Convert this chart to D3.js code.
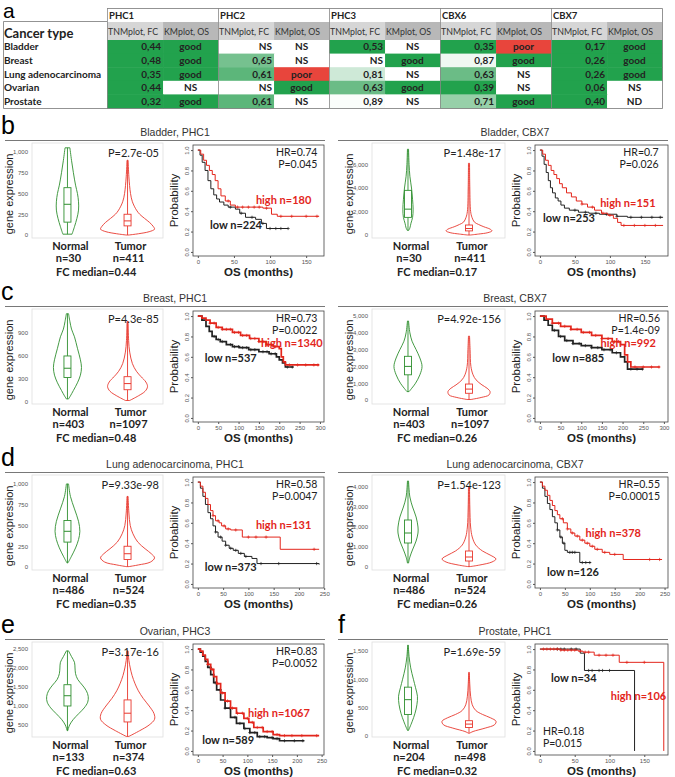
<!DOCTYPE html>
<html>
<head>
<meta charset="utf-8">
<script src="https://cdn.jsdelivr.net/npm/d3@7"></script>
<style>
  body { margin: 0; background: #fff; }
</style>
</head>
<body>
<div id="visual"></div>
<script>
// ---------- table (panel a)
const tableGenes = ["PHC1", "PHC2", "PHC3", "CBX6", "CBX7"];
const tableCancers = ["Bladder", "Breast", "Lung adenocarcinoma", "Ovarian", "Prostate"];
// FC median per cancer (rows) x gene (cols); null = NS
const tableFC = [
    [0.44, null, 0.53, 0.35, 0.17],
    [0.48, 0.65, null, 0.87, 0.26],
    [0.35, 0.61, 0.81, 0.63, 0.26],
    [0.44, null, 0.63, 0.39, 0.06],
    [0.32, 0.61, 0.89, 0.71, 0.40]
];
const tableOS = [
    ["good", "NS", "NS", "poor", "good"],
    ["good", "NS", "good", "good", "good"],
    ["good", "poor", "NS", "NS", "good"],
    ["NS", "good", "good", "NS", "NS"],
    ["good", "NS", "NS", "good", "ND"]
];

// ---------- violins: [expression, density]
const vBladderPHC1N = [[1050,0.09],[900,0.15],[750,0.22],[600,0.3],[500,0.37],[400,0.41],[300,0.41],[200,0.35],[100,0.26],[10,0.17]];
const vBladderPHC1T = [[900,0.02],[700,0.05],[500,0.11],[400,0.18],[300,0.33],[250,0.45],[200,0.63],[150,0.82],[100,0.96],[70,1.0],[40,0.8],[15,0.4],[0,0.05]];
const vBladderCBX7N = [[7300,0.02],[6000,0.04],[5000,0.07],[4000,0.13],[3000,0.17],[2200,0.19],[1500,0.17],[1000,0.11],[600,0.07],[400,0.03]];
const vBladderCBX7T = [[6100,0.02],[4000,0.03],[2000,0.06],[1500,0.11],[1100,0.2],[900,0.35],[700,0.55],[500,0.78],[350,0.85],[200,0.7],[80,0.35],[0,0.05]];
const vBreastPHC1N = [[1150,0.04],[1050,0.09],[950,0.15],[850,0.26],[700,0.37],[550,0.48],[450,0.52],[350,0.48],[250,0.37],[150,0.22],[80,0.11],[40,0.04]];
const vBreastPHC1T = [[1050,0.02],[800,0.04],[650,0.08],[500,0.18],[400,0.33],[330,0.5],[260,0.68],[200,0.74],[140,0.65],[80,0.4],[20,0.08]];
const vBreastCBX7N = [[4700,0.02],[4000,0.07],[3500,0.15],[3000,0.3],[2500,0.44],[2000,0.52],[1500,0.44],[1000,0.28],[700,0.14],[500,0.04]];
const vBreastCBX7T = [[3800,0.02],[3000,0.04],[2000,0.07],[1500,0.15],[1200,0.26],[900,0.48],[700,0.67],[500,0.78],[300,0.74],[150,0.45],[30,0.07]];
const vLungPHC1N = [[1000,0.04],[850,0.11],[700,0.26],[550,0.41],[430,0.46],[330,0.41],[230,0.3],[130,0.15],[50,0.02]];
const vLungPHC1T = [[850,0.02],[650,0.05],[500,0.1],[400,0.2],[300,0.38],[220,0.65],[160,0.88],[110,1.0],[60,0.85],[25,0.4],[5,0.05]];
const vLungCBX7N = [[4300,0.02],[3500,0.07],[3000,0.17],[2500,0.3],[2000,0.37],[1700,0.37],[1300,0.3],[900,0.18],[500,0.07],[200,0.02]];
const vLungCBX7T = [[4000,0.02],[3000,0.03],[2000,0.06],[1500,0.12],[1100,0.25],[800,0.5],[600,0.78],[400,1.0],[250,0.85],[100,0.4],[20,0.04]];
const vOvarianPHC3N = [[2450,0.04],[2300,0.15],[2150,0.26],[2000,0.28],[1850,0.3],[1700,0.38],[1550,0.55],[1400,0.7],[1250,0.77],[1100,0.75],[950,0.62],[800,0.42],[650,0.22],[500,0.08],[350,0.01]];
const vOvarianPHC3T = [[2450,0.02],[2200,0.05],[2000,0.1],[1800,0.17],[1600,0.27],[1400,0.4],[1200,0.58],[1000,0.8],[800,0.98],[650,1.0],[500,0.8],[350,0.45],[200,0.05]];
const vProstatePHC1N = [[1600,0.01],[1400,0.04],[1200,0.1],[1000,0.2],[850,0.28],[700,0.35],[550,0.33],[400,0.26],[250,0.15],[100,0.02]];
const vProstatePHC1T = [[1120,0.01],[900,0.03],[700,0.06],[550,0.12],[450,0.25],[380,0.5],[320,0.8],[260,1.0],[200,0.95],[140,0.6],[80,0.15],[50,0.02]];

// box stats: [min, q1, median, q3, max]
const bBladderPHC1N = [10,155,370,570,1050], bBladderPHC1T = [0,110,170,250,900];
const bBladderCBX7N = [400,1500,2200,3800,7300], bBladderCBX7T = [0,350,550,850,6100];
const bBreastPHC1N = [40,320,440,600,1150], bBreastPHC1T = [20,160,240,330,1050];
const bBreastCBX7N = [500,1500,2000,2600,4700], bBreastCBX7T = [30,400,650,950,3800];
const bLungPHC1N = [50,300,430,560,1000], bLungPHC1T = [5,90,160,250,850];
const bLungCBX7N = [200,1200,1700,2350,4300], bLungCBX7T = [20,300,500,800,4000];
const bOvarianPHC3N = [350,1000,1270,1560,2450], bOvarianPHC3T = [200,580,810,1160,2450];
const bProstatePHC1N = [100,380,640,860,1600], bProstatePHC1T = [50,150,210,270,1120];

// ---------- Kaplan-Meier: [months, survival probability]
const kmBladderPHC1High = [[0,1],[4,0.96],[8,0.9],[12,0.85],[16,0.8],[20,0.76],[24,0.7],[28,0.62],[32,0.55],[38,0.5],[45,0.46],[52,0.44],[90,0.43],[102,0.37],[110,0.35],[168,0.35]];
const kmBladderPHC1Low = [[0,1],[3,0.95],[6,0.88],[10,0.8],[14,0.7],[18,0.62],[22,0.56],[26,0.52],[30,0.49],[36,0.46],[42,0.44],[52,0.42],[58,0.38],[66,0.34],[80,0.32],[88,0.28],[95,0.23],[125,0.23]];
const kmBladderCBX7High = [[0,1],[4,0.96],[8,0.9],[12,0.85],[16,0.8],[20,0.76],[24,0.72],[28,0.67],[32,0.63],[38,0.58],[45,0.54],[52,0.5],[60,0.47],[68,0.44],[78,0.41],[88,0.38],[97,0.36],[105,0.33],[111,0.29],[116,0.26],[176,0.26]];
const kmBladderCBX7Low = [[0,1],[3,0.94],[6,0.86],[9,0.78],[12,0.7],[15,0.63],[18,0.58],[22,0.53],[26,0.5],[30,0.46],[35,0.43],[42,0.41],[55,0.39],[70,0.38],[85,0.37],[110,0.35],[125,0.34],[176,0.34]];
const kmBreastPHC1High = [[0,1],[10,0.98],[20,0.96],[30,0.93],[45,0.89],[60,0.87],[85,0.84],[105,0.81],[127,0.78],[150,0.75],[168,0.72],[185,0.7],[200,0.68],[205,0.6],[210,0.55],[215,0.52],[298,0.52]];
const kmBreastPHC1Low = [[0,1],[10,0.96],[20,0.9],[28,0.85],[35,0.8],[45,0.77],[55,0.75],[70,0.72],[85,0.7],[102,0.69],[125,0.67],[150,0.65],[175,0.63],[193,0.6],[200,0.57],[208,0.54],[215,0.5],[235,0.5]];
const kmBreastCBX7High = [[0,1],[15,0.97],[30,0.93],[50,0.9],[75,0.87],[100,0.84],[125,0.81],[150,0.78],[175,0.75],[195,0.72],[205,0.62],[212,0.55],[220,0.5],[290,0.5]];
const kmBreastCBX7Low = [[0,1],[10,0.96],[20,0.91],[30,0.86],[45,0.8],[60,0.76],[80,0.73],[100,0.71],[125,0.69],[150,0.67],[175,0.64],[195,0.6],[205,0.55],[212,0.48],[250,0.48]];
const kmLungPHC1High = [[0,1],[5,0.96],[10,0.9],[15,0.84],[20,0.78],[25,0.72],[30,0.67],[35,0.62],[42,0.6],[47,0.57],[55,0.54],[65,0.53],[88,0.46],[163,0.34],[240,0.34]];
const kmLungPHC1Low = [[0,1],[5,0.94],[10,0.86],[15,0.78],[20,0.7],[25,0.64],[30,0.57],[35,0.51],[40,0.46],[48,0.42],[55,0.38],[62,0.35],[70,0.33],[80,0.3],[92,0.27],[107,0.25],[117,0.2],[240,0.19]];
const kmLungCBX7High = [[0,1],[5,0.96],[10,0.92],[15,0.87],[20,0.82],[25,0.77],[30,0.72],[35,0.68],[40,0.64],[47,0.6],[55,0.54],[62,0.5],[70,0.47],[80,0.43],[90,0.4],[100,0.37],[110,0.34],[125,0.31],[140,0.29],[167,0.24],[245,0.24]];
const kmLungCBX7Low = [[0,1],[5,0.94],[10,0.86],[15,0.79],[20,0.73],[25,0.66],[30,0.6],[35,0.53],[40,0.46],[45,0.4],[50,0.33],[55,0.31],[80,0.21],[102,0.21]];
const kmOvarianPHC3High = [[0,1],[5,0.98],[10,0.94],[15,0.9],[20,0.85],[26,0.8],[32,0.73],[38,0.66],[46,0.57],[55,0.49],[66,0.42],[78,0.37],[93,0.32],[103,0.28],[113,0.23],[132,0.19],[152,0.16],[165,0.15],[245,0.15]];
const kmOvarianPHC3Low = [[0,1],[5,0.97],[10,0.93],[15,0.88],[20,0.82],[26,0.75],[32,0.67],[38,0.6],[46,0.5],[55,0.42],[66,0.33],[78,0.27],[93,0.22],[105,0.18],[120,0.14],[140,0.13],[152,0.12],[165,0.1],[215,0.1]];
const kmProstatePHC1High = [[0,1],[30,0.99],[55,0.98],[62,0.97],[78,0.94],[114,0.87],[178,0],[178,0]];
const kmProstatePHC1Low = [[0,1],[58,0.96],[64,0.79],[136,0],[136,0]];

// censored times
const cBladderPHC1High = [42,55,62,70,78,85,95,115,130,150,165], cBladderPHC1Low = [45,60,75,90,100,108,115,125];
const cBladderCBX7High = [60,75,90,100,120,135,150,165], cBladderCBX7Low = [50,65,80,95,110,130,145,160,172];
const cBreastPHC1High = [30,40,50,60,70,80,90,100,110,120,130,140,150,160,170,180,190,225,245,265,285,295];
const cBreastPHC1Low = [40,50,60,80,90,100,110,120,130,140,160,170,180,190,220,232];
const cBreastCBX7High = [30,45,60,75,90,105,120,135,150,165,180,190,230,250,270,288];
const cBreastCBX7Low = [35,50,65,80,95,110,125,140,155,170,185,220,235,248];
const cLungPHC1High = [30,40,52,60,75,100,115,135,230], cLungPHC1Low = [35,45,55,65,75,85,95,125,160,235];
const cLungCBX7High = [45,55,65,75,85,95,105,115,130,150,220,240], cLungCBX7Low = [35,42,48,60,65,70,85,92,100];
const cOvarianPHC3High = [20,30,40,50,60,70,80,90,100,110,120,130,140,150,160,175,190,210,240];
const cOvarianPHC3Low = [25,35,45,55,65,75,85,95,105,115,125,135,150,160,175,195,212];
const cProstatePHC1High = [5,10,15,20,25,30,35,40,45,50,58,65,70,85,95,105,125,150];
const cProstatePHC1Low = [25,30,35,45,52,70,75,85,90,100];

const COLORS = {
    green: "#22a24d",
    mid: "#66b981",
    red: "#e8453c",
    normal: "#2f8f2f",
    tumor: "#e8382e",
    high: "#e3261c",
    low: "#222",
    text: "#222"
};

// panel layout (b-f)
const rowOffsets = [0, 166, 332, 499];
const cols = [
    {vx: 32, vw: 131, kx: 193, kw: 131, mid: 175, l0: 5, l1: 325, lx: 1},
    {vx: 372, vw: 133, kx: 535, kw: 133, mid: 515, l0: 338, l1: 668, lx: 338}
];

const panels = [
    {label: "b", row: 0, col: 0, title: "Bladder, PHC1", vDomain: [-36, 1108], vTicks: [0, 250, 500, 750, 1000],
     normal: vBladderPHC1N, tumor: vBladderPHC1T, normalBox: bBladderPHC1N, tumorBox: bBladderPHC1T,
     p: "P=2.7e-05", nN: 30, nT: 411, fc: "0.44",
     kmMax: 168, kmTicks: [0, 50, 100, 150], high: kmBladderPHC1High, low: kmBladderPHC1Low,
     highC: cBladderPHC1High, lowC: cBladderPHC1Low, hr: "HR=0.74", pKM: "P=0.045", nHigh: 180, nLow: 224,
     pos: {hr: [0.95, 0.1, "end"], high: [0.48, 0.53, "start"], low: [0.13, 0.76, "start"]}, lw: 1},
    {row: 0, col: 1, title: "Bladder, CBX7", vDomain: [-255, 7830], vTicks: [0, 2000, 4000, 6000],
     normal: vBladderCBX7N, tumor: vBladderCBX7T, normalBox: bBladderCBX7N, tumorBox: bBladderCBX7T,
     p: "P=1.48e-17", nN: 30, nT: 411, fc: "0.17",
     kmMax: 176, kmTicks: [0, 50, 100, 150], high: kmBladderCBX7High, low: kmBladderCBX7Low,
     highC: cBladderCBX7High, lowC: cBladderCBX7Low, hr: "HR=0.7", pKM: "P=0.026", nHigh: 151, nLow: 253,
     pos: {hr: [0.93, 0.1, "end"], high: [0.49, 0.56, "start"], low: [0.06, 0.69, "start"]}, lw: 1},
    {label: "c", row: 1, col: 0, title: "Breast, PHC1", vDomain: [-26, 1212], vTicks: [0, 300, 600, 900],
     normal: vBreastPHC1N, tumor: vBreastPHC1T, normalBox: bBreastPHC1N, tumorBox: bBreastPHC1T,
     p: "P=4.3e-85", nN: 403, nT: 1097, fc: "0.48",
     kmMax: 298, kmTicks: [0, 50, 100, 150, 200, 250, 300], high: kmBreastPHC1High, low: kmBreastPHC1Low,
     highC: cBreastPHC1High, lowC: cBreastPHC1Low, hr: "HR=0.73", pKM: "P=0.0022", nHigh: 1340, nLow: 537,
     pos: {hr: [0.95, 0.1, "end"], high: [0.99, 0.32, "end"], low: [0.09, 0.46, "start"]}, lw: 1.7},
    {row: 1, col: 1, title: "Breast, CBX7", vDomain: [-238, 5417], vTicks: [0, 1000, 2000, 3000, 4000, 5000],
     normal: vBreastCBX7N, tumor: vBreastCBX7T, normalBox: bBreastCBX7N, tumorBox: bBreastCBX7T,
     p: "P=4.92e-156", nN: 403, nT: 1097, fc: "0.26",
     kmMax: 298, kmTicks: [0, 50, 100, 150, 200, 250, 300], high: kmBreastCBX7High, low: kmBreastCBX7Low,
     highC: cBreastCBX7High, lowC: cBreastCBX7Low, hr: "HR=0.56", pKM: "P=1.4e-09", nHigh: 992, nLow: 885,
     pos: {hr: [0.94, 0.1, "end"], high: [0.91, 0.32, "end"], low: [0.13, 0.46, "start"]}, lw: 1.7},
    {label: "d", row: 2, col: 0, title: "Lung adenocarcinoma, PHC1", vDomain: [-36, 1108], vTicks: [0, 250, 500, 750, 1000],
     normal: vLungPHC1N, tumor: vLungPHC1T, normalBox: bLungPHC1N, tumorBox: bLungPHC1T,
     p: "P=9.33e-98", nN: 486, nT: 524, fc: "0.35",
     kmMax: 240, kmTicks: [0, 50, 100, 150, 200, 250], high: kmLungPHC1High, low: kmLungPHC1Low,
     highC: cLungPHC1High, lowC: cLungPHC1Low, hr: "HR=0.58", pKM: "P=0.0047", nHigh: 131, nLow: 373,
     pos: {hr: [0.95, 0.1, "end"], high: [0.48, 0.47, "start"], low: [0.09, 0.85, "start"]}, lw: 1},
    {row: 2, col: 1, title: "Lung adenocarcinoma, CBX7", vDomain: [-150, 4600], vTicks: [0, 1000, 2000, 3000, 4000],
     normal: vLungCBX7N, tumor: vLungCBX7T, normalBox: bLungCBX7N, tumorBox: bLungCBX7T,
     p: "P=1.54e-123", nN: 486, nT: 524, fc: "0.26",
     kmMax: 247, kmTicks: [0, 50, 100, 150, 200, 250], high: kmLungCBX7High, low: kmLungCBX7Low,
     highC: cLungCBX7High, lowC: cLungCBX7Low, hr: "HR=0.55", pKM: "P=0.00015", nHigh: 378, nLow: 126,
     pos: {hr: [0.94, 0.1, "end"], high: [0.38, 0.54, "start"], low: [0.09, 0.89, "start"]}, lw: 1},
    {label: "e", row: 3, col: 0, title: "Ovarian, PHC3", vDomain: [184, 2684], vTicks: [500, 1000, 1500, 2000, 2500],
     normal: vOvarianPHC3N, tumor: vOvarianPHC3T, normalBox: bOvarianPHC3N, tumorBox: bOvarianPHC3T,
     p: "P=3.17e-16", nN: 133, nT: 374, fc: "0.63",
     kmMax: 245, kmTicks: [0, 50, 100, 150, 200, 250], high: kmOvarianPHC3High, low: kmOvarianPHC3Low,
     highC: cOvarianPHC3High, lowC: cOvarianPHC3Low, hr: "HR=0.83", pKM: "P=0.0052", nHigh: 1067, nLow: 589,
     pos: {hr: [0.95, 0.1, "end"], high: [0.42, 0.66, "start"], low: [0.07, 0.9, "start"]}, lw: 1.7},
    {label: "f", row: 3, col: 1, title: "Prostate, PHC1", vDomain: [-17, 1655], vTicks: [0, 500, 1000, 1500],
     normal: vProstatePHC1N, tumor: vProstatePHC1T, normalBox: bProstatePHC1N, tumorBox: bProstatePHC1T,
     p: "P=1.69e-59", nN: 204, nT: 498, fc: "0.32",
     kmMax: 177, kmTicks: [0, 50, 100, 150], high: kmProstatePHC1High, low: kmProstatePHC1Low,
     highC: cProstatePHC1High, lowC: cProstatePHC1Low, hr: "HR=0.18", pKM: "P=0.015", nHigh: 106, nLow: 34,
     pos: {hr: [0.06, 0.82, "start"], high: [0.57, 0.5, "start"], low: [0.12, 0.34, "start"]}, lw: 1}
];

const svg = d3.select("#visual")
    .append("svg")
    .attr("width", 675)
    .attr("height", 777)
    .style("font-family", "Lato, sans-serif");

// ================= panel a: table
svg.append("text").attr("x", 3).attr("y", 18)
    .style("font-family", "Liberation Sans, Arial, sans-serif").style("font-size", "21px")
    .text("a");

let gx = d3.scaleBand().domain(tableGenes).range([107, 662]);
let ry = d3.scaleBand().domain(tableCancers).range([40, 108]);
let split = 0.505;
let fcColor = d3.scaleLinear()
    .domain([0.55, 0.62, 0.9])
    .range([COLORS.green, COLORS.mid, "#ffffff"])
    .clamp(true);
let osColor = {good: COLORS.green, poor: COLORS.red, NS: "#fff", ND: "#fff"};

let table = svg.append("g");

// header cells
tableGenes.forEach(function (g) {
    let x = gx(g), w = gx.bandwidth();
    table.append("rect").attr("x", x).attr("y", 22).attr("width", w * split).attr("height", 18).style("fill", "#d6d6d6");
    table.append("rect").attr("x", x + w * split).attr("y", 22).attr("width", w * (1 - split)).attr("height", 18).style("fill", "#b8b8b8");
    table.append("text").attr("x", x + 2).attr("y", 18.5)
        .style("font-size", "9.5px").style("font-weight", "700").style("fill", COLORS.text).text(g);
    table.append("text").attr("x", x + 1).attr("y", 35)
        .style("font-size", "8.8px").style("fill", "#333").text("TNMplot, FC");
    table.append("text").attr("x", x + w * split + 1).attr("y", 35)
        .style("font-size", "8.8px").style("fill", "#333").text("KMplot, OS");
});

table.append("text").attr("x", 4).attr("y", 38)
    .style("font-size", "13px").style("font-weight", "700").style("fill", COLORS.text).text("Cancer type");

// body cells
tableCancers.forEach(function (c, ci) {
    let y = ry(c), h = ry.bandwidth();
    table.append("text").attr("x", 4).attr("y", y + h * 0.76)
        .style("font-size", "10px").style("font-weight", "700").style("fill", COLORS.text).text(c);
    tableGenes.forEach(function (g, gi) {
        let x = gx(g), w = gx.bandwidth();
        let fc = tableFC[ci][gi], os = tableOS[ci][gi];
        table.append("rect").attr("x", x).attr("y", y).attr("width", w * split + 0.5).attr("height", h + 0.5)
            .style("fill", fc == null ? "#fff" : fcColor(fc));
        table.append("rect").attr("x", x + w * split).attr("y", y).attr("width", w * (1 - split) + 0.5).attr("height", h + 0.5)
            .style("fill", osColor[os]);
        table.append("text").attr("x", x + w * split - 2).attr("y", y + h * 0.76)
            .attr("text-anchor", "end")
            .style("font-size", "10px").style("font-weight", "700").style("fill", COLORS.text)
            .text(fc == null ? "NS" : fc.toFixed(2).replace(".", ","));
        table.append("text").attr("x", x + w * split + w * (1 - split) / 2).attr("y", y + h * 0.76)
            .attr("text-anchor", "middle")
            .style("font-size", "10px").style("font-weight", "700").style("fill", COLORS.text)
            .text(os);
    });
});

// table borders
table.append("path")
    .attr("d", "M107,8.5H662.5V108.5H3.5V21.5H107")
    .style("fill", "none").style("stroke", "#777").style("stroke-width", 0.8);
table.selectAll("line.sep")
    .data(tableGenes)
    .enter().append("line")
    .attr("x1", d => gx(d) + 0.5).attr("x2", d => gx(d) + 0.5)
    .attr("y1", 8).attr("y2", 108)
    .style("stroke", "#888").style("stroke-width", 0.8);

// ================= panels b-f
let wScale = d3.scaleLinear().domain([0, 1]).range([0, 27]);

function drawPanel(p) {
    let oy = rowOffsets[p.row];
    let c = cols[p.col];
    let g = svg.append("g");

    if (p.label) {
        g.append("text").attr("x", c.lx).attr("y", oy + 134)
            .style("font-family", "Liberation Sans, Arial, sans-serif").style("font-size", "25px")
            .text(p.label);
    }

    g.append("text").attr("x", c.mid).attr("y", oy + 136)
        .attr("text-anchor", "middle")
        .style("font-family", "Liberation Sans, Arial, sans-serif").style("font-size", "10.5px").style("fill", "#333")
        .text(p.title);
    g.append("line").attr("x1", c.l0).attr("x2", c.l1).attr("y1", oy + 140.5).attr("y2", oy + 140.5)
        .style("stroke", "#555").style("stroke-width", 0.8);

    // ---- violin plot
    let vTop = oy + 143, vBot = oy + 238;
    g.append("rect").attr("x", c.vx).attr("y", vTop).attr("width", c.vw).attr("height", vBot - vTop)
        .style("fill", "none").style("stroke", "#dedede").style("stroke-width", 0.8);

    let y = d3.scaleLinear().domain(p.vDomain).range([vBot, vTop]);
    let x = d3.scalePoint().domain(["Normal", "Tumor"]).range([c.vx, c.vx + c.vw]).padding(0.59);

    g.append("g")
        .attr("transform", "translate(" + (c.vx - 1) + ",0)")
        .call(d3.axisLeft(y).tickValues(p.vTicks).tickSize(0).tickPadding(3))
        .call(a => a.select(".domain").remove())
        .selectAll("text")
        .style("font-family", "Liberation Sans, Arial, sans-serif").style("font-size", "6px").style("fill", "#555");

    g.append("text")
        .attr("transform", "translate(" + (c.vx - 19) + "," + (oy + 194) + ")rotate(-90)")
        .attr("text-anchor", "middle")
        .style("font-family", "Liberation Sans, Arial, sans-serif").style("font-size", "11px").style("fill", "#222")
        .text("gene expression");

    [["Normal", p.normal, p.normalBox, COLORS.normal, p.nN], ["Tumor", p.tumor, p.tumorBox, COLORS.tumor, p.nT]]
        .forEach(function (v) {
            let cx = x(v[0]), col = v[3], box = v[2];
            let area = d3.area()
                .y(d => y(d[0]))
                .x0(d => cx - wScale(d[1]))
                .x1(d => cx + wScale(d[1]))
                .curve(d3.curveCatmullRom);
            g.append("path").datum(v[1]).attr("d", area)
                .style("fill", "#fff").style("stroke", col).style("stroke-width", 0.9);
            g.append("line").attr("x1", cx).attr("x2", cx).attr("y1", y(box[0])).attr("y2", y(box[1]))
                .style("stroke", col).style("stroke-width", 0.9);
            g.append("line").attr("x1", cx).attr("x2", cx).attr("y1", y(box[3])).attr("y2", y(box[4]))
                .style("stroke", col).style("stroke-width", 0.9);
            g.append("rect").attr("x", cx - 3.5).attr("width", 7)
                .attr("y", y(box[3])).attr("height", y(box[1]) - y(box[3]))
                .style("fill", "#fff").style("stroke", col).style("stroke-width", 0.9);
            g.append("line").attr("x1", cx - 3.5).attr("x2", cx + 3.5).attr("y1", y(box[2])).attr("y2", y(box[2]))
                .style("stroke", col).style("stroke-width", 1);

            g.append("text").attr("x", cx + 3).attr("y", vBot + 12)
                .attr("text-anchor", "middle")
                .style("font-size", "11px").style("font-weight", "700").style("fill", COLORS.text)
                .text(v[0]);
            g.append("text").attr("x", cx + 1).attr("y", vBot + 23.5)
                .attr("text-anchor", "middle")
                .style("font-size", "11px").style("font-weight", "700").style("fill", COLORS.text)
                .text("n=" + v[4]);
        });

    g.append("text").attr("x", c.vx + c.vw * 0.49).attr("y", vBot + 38)
        .attr("text-anchor", "middle")
        .style("font-size", "11px").style("font-weight", "700").style("fill", COLORS.text)
        .text("FC median=" + p.fc);
    g.append("text").attr("x", c.vx + c.vw - 4).attr("y", vTop + 14)
        .attr("text-anchor", "end")
        .style("font-size", "11px").style("fill", COLORS.text)
        .text(p.p);

    // ---- KM plot
    let kTop = oy + 145, kH = 111, kBot = kTop + kH;
    let kx = d3.scaleLinear().domain([-0.04 * p.kmMax, 1.04 * p.kmMax]).range([c.kx, c.kx + c.kw]);
    let ky = d3.scaleLinear().domain([-0.04, 1.05]).range([kBot, kTop]);

    g.append("rect").attr("x", c.kx).attr("y", kTop).attr("width", c.kw).attr("height", kH)
        .style("fill", "none").style("stroke", "#444").style("stroke-width", 0.8);

    g.append("g")
        .attr("transform", "translate(0," + kBot + ")")
        .call(d3.axisBottom(kx).tickValues(p.kmTicks).tickSize(2).tickPadding(2))
        .call(a => a.select(".domain").remove())
        .call(a => a.selectAll("line").style("stroke", "#555"))
        .selectAll("text")
        .style("font-family", "Liberation Sans, Arial, sans-serif").style("font-size", "6px").style("fill", "#555");

    g.append("g")
        .attr("transform", "translate(" + c.kx + ",0)")
        .call(d3.axisLeft(ky).tickValues([0, 0.2, 0.4, 0.6, 0.8, 1]).tickFormat(d3.format(".1f")).tickSize(2))
        .call(a => a.select(".domain").remove())
        .call(a => a.selectAll("line").style("stroke", "#555"))
        .selectAll("text")
        .attr("x", 0).attr("y", -4).attr("dy", 0)
        .attr("transform", "rotate(-90)")
        .style("text-anchor", "middle")
        .style("font-family", "Liberation Sans, Arial, sans-serif").style("font-size", "6px").style("fill", "#555");

    g.append("text")
        .attr("transform", "translate(" + (c.kx - 15) + "," + (kTop + kH / 2) + ")rotate(-90)")
        .attr("text-anchor", "middle")
        .style("font-family", "Liberation Sans, Arial, sans-serif").style("font-size", "11.5px").style("fill", "#222")
        .text("Probability");
    g.append("text").attr("x", c.kx + c.kw / 2).attr("y", kBot + 20)
        .attr("text-anchor", "middle")
        .style("font-family", "Liberation Sans, Arial, sans-serif").style("font-size", "11.5px")
        .style("font-weight", "700").style("fill", "#222")
        .text("OS (months)");

    let line = d3.line().x(d => kx(d[0])).y(d => ky(d[1])).curve(d3.curveStepAfter);
    let bis = d3.bisector(d => d[0]).right;
    [[p.low, p.lowC, COLORS.low], [p.high, p.highC, COLORS.high]].forEach(function (k) {
        g.append("path").datum(k[0]).attr("d", line)
            .style("fill", "none").style("stroke", k[2]).style("stroke-width", p.lw);
        let marks = k[1].map(function (t) {
            let s = k[0][Math.max(0, bis(k[0], t) - 1)][1];
            return [kx(t), ky(s)];
        });
        g.append("path")
            .attr("d", marks.map(m => "M" + (m[0] - 1.6) + "," + m[1] + "h3.2M" + m[0] + "," + (m[1] - 1.6) + "v3.2").join(""))
            .style("fill", "none").style("stroke", k[2]).style("stroke-width", 0.7);
    });

    function place(pos) {
        return [c.kx + pos[0] * c.kw, kTop + pos[1] * kH];
    }
    let hrXY = place(p.pos.hr);
    g.append("text").attr("x", hrXY[0]).attr("y", hrXY[1]).attr("text-anchor", p.pos.hr[2])
        .style("font-size", "10.5px").style("fill", COLORS.text).text(p.hr);
    g.append("text").attr("x", hrXY[0]).attr("y", hrXY[1] + 12).attr("text-anchor", p.pos.hr[2])
        .style("font-size", "10.5px").style("fill", COLORS.text).text(p.pKM);
    let hiXY = place(p.pos.high);
    g.append("text").attr("x", hiXY[0]).attr("y", hiXY[1]).attr("text-anchor", p.pos.high[2])
        .style("font-size", "11px").style("font-weight", "700").style("fill", COLORS.high)
        .text("high n=" + p.nHigh);
    let loXY = place(p.pos.low);
    g.append("text").attr("x", loXY[0]).attr("y", loXY[1]).attr("text-anchor", p.pos.low[2])
        .style("font-size", "11px").style("font-weight", "700").style("fill", COLORS.text)
        .text("low n=" + p.nLow);
}

panels.forEach(drawPanel);
</script>
</body>
</html>
